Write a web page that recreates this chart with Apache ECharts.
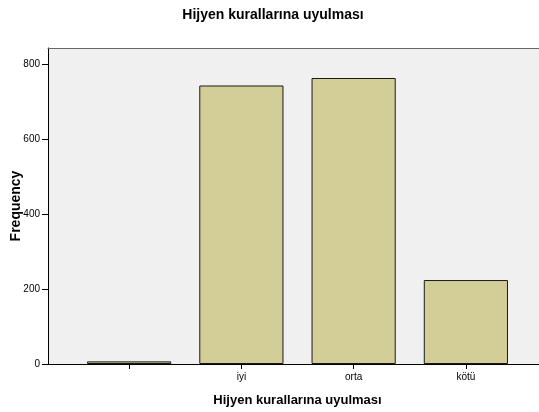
<!DOCTYPE html>
<html><head><meta charset="utf-8">
<script src="https://cdn.jsdelivr.net/npm/echarts@6/dist/echarts.min.js"></script>
<style>html,body{margin:0;padding:0;background:#fff}#c{width:539px;height:412px}</style>
</head><body><div id="c"></div>
<script>
const title = 'Hijyen kurallarına uyulması';
const categories = ['', 'iyi', 'orta', 'kötü'];
const frequency = [7, 743, 763, 224];
const yTicks = [0, 200, 400, 600, 800];
const yMax = 843;

const chart = echarts.init(document.getElementById('c'), null, {renderer: 'canvas'});
const font = 'Arial, "Liberation Sans", sans-serif';
chart.setOption({
  animation: false,
  backgroundColor: '#ffffff',
  title: {text: title, left: 268, top: 3, textAlign: 'center',
    textStyle: {fontFamily: font, fontSize: 14, fontWeight: 'bold', color: '#000'}},
  grid: [
    {left: 48, right: 0, top: 48, bottom: 48, show: true, backgroundColor: '#f0f0f0', borderWidth: 0,
      containLabel: false, outerBoundsMode: 'none'},
    {left: 73, right: 17, top: 48, bottom: 48, containLabel: false, outerBoundsMode: 'none'}
  ],
  xAxis: [
    {gridIndex: 0, type: 'value', min: 0, max: 1, show: true,
      axisLine: {show: true, onZero: false, lineStyle: {color: '#000', width: 1}},
      axisTick: {show: false}, axisLabel: {show: false}, splitLine: {show: false}},
    {gridIndex: 0, type: 'value', min: 0, max: 1, position: 'top', show: true,
      axisLine: {show: true, onZero: false, lineStyle: {color: '#666', width: 1}},
      axisTick: {show: false}, axisLabel: {show: false}, splitLine: {show: false}},
    {gridIndex: 1, type: 'category', data: categories,
      axisLine: {show: false}, axisTick: {show: true, alignWithLabel: true, length: 5, inside: false, lineStyle: {color: '#000'}},
      axisLabel: {fontFamily: font, fontSize: 10, color: '#000', margin: 8},
      name: title, nameLocation: 'middle', nameGap: 30, nameMoveOverlap: false,
      nameTextStyle: {fontFamily: font, fontSize: 13, fontWeight: 'bold', color: '#000'}},
  ],
  yAxis: [
    {gridIndex: 0, type: 'value', min: 0, max: yMax, interval: 200,
      axisLine: {show: true, lineStyle: {color: '#000', width: 1}},
      axisTick: {show: true, length: 6, inside: false, customValues: yTicks, lineStyle: {color: '#000'}},
      axisLabel: {fontFamily: font, fontSize: 10, color: '#000', margin: 8, customValues: yTicks},
      splitLine: {show: false},
      name: 'Frequency', nameLocation: 'middle', nameGap: 25, nameMoveOverlap: false,
      nameTextStyle: {fontFamily: font, fontSize: 14, fontWeight: 'bold', color: '#000'}},
    {gridIndex: 1, type: 'value', min: 0, max: yMax, show: false, splitLine: {show: false}}
  ],
  series: [{
    type: 'bar', xAxisIndex: 2, yAxisIndex: 1, data: frequency, barWidth: '75%',
    itemStyle: {color: '#d3ce97', borderColor: '#1a1a1a', borderWidth: 1}
  }]
});
</script></body></html>
